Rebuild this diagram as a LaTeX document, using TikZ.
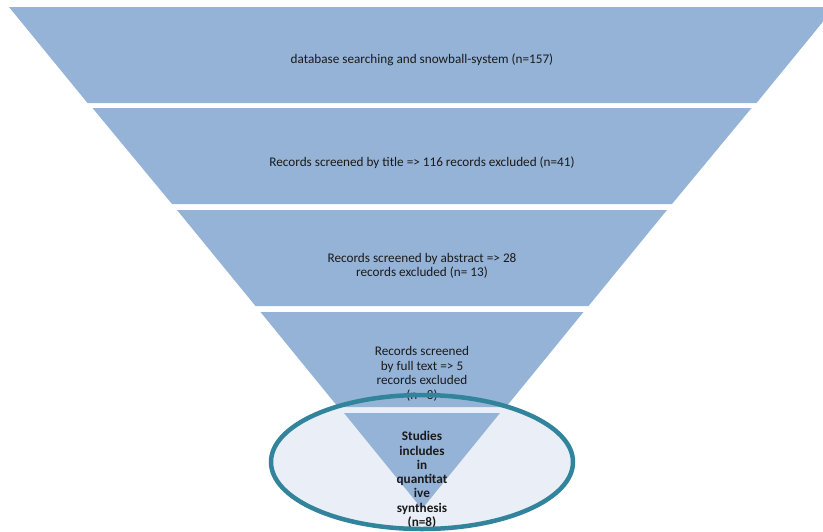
\documentclass[tikz,border=0pt]{standalone}
\usepackage{fontspec}
\setmainfont{Carlito}
\definecolor{funnelblue}{HTML}{95B3D7}
\definecolor{ellfill}{HTML}{EAEFF7}
\definecolor{ellline}{HTML}{31849B}
\definecolor{txt}{HTML}{1A1A1A}
\begin{document}
\begin{tikzpicture}[x=1pt,y=-1pt,
  layer/.style={fill=funnelblue},
  lbl/.style={text=txt,font=\fontsize{13.2}{14.5}\selectfont,align=center,inner sep=0pt},
  blbl/.style={lbl,font=\fontsize{13.2}{14.3}\selectfont\bfseries}]
\useasboundingbox (0,0) rectangle (823,531);
\begin{scope}
\clip (0,0) rectangle (823,531);
% ellipse fill (behind funnel)
\fill[ellfill] (422,462) ellipse [x radius=151pt, y radius=67pt];
% funnel layers
\fill[layer] (9,7) -- (835,7) -- (756.5,103) -- (87.5,103) -- cycle;
\fill[layer] (92.5,108) -- (751.5,108) -- (672,204) -- (172,204) -- cycle;
\fill[layer] (177,210) -- (667,210) -- (588.5,306) -- (255.5,306) -- cycle;
\fill[layer] (260.5,312) -- (583.5,312) -- (506,407) -- (338,407) -- cycle;
\fill[layer] (344,413) -- (500,413) -- (422,509) -- cycle;
% texts
\node[lbl] (t1) at (422,60) {database searching and snowball-system (n=157)};
\node[lbl] (t2) at (422,163) {Records screened by title => 116 records excluded (n=41)};
\node[lbl] (t3) at (422,266) {Records screened by abstract => 28\\records excluded (n= 13)};
\node[lbl] (t4) at (422,374) {Records screened\\by full text => 5\\records excluded\\(n= 8)};
\node[blbl] (t5) at (422,480) {Studies\\includes\\in\\quantitat\\ive\\synthesis\\(n=8)};
% ellipse outline on top
\draw[ellline,line width=4.5pt] (422,462) ellipse [x radius=151pt, y radius=67pt];
\end{scope}
\end{tikzpicture}
\end{document}
